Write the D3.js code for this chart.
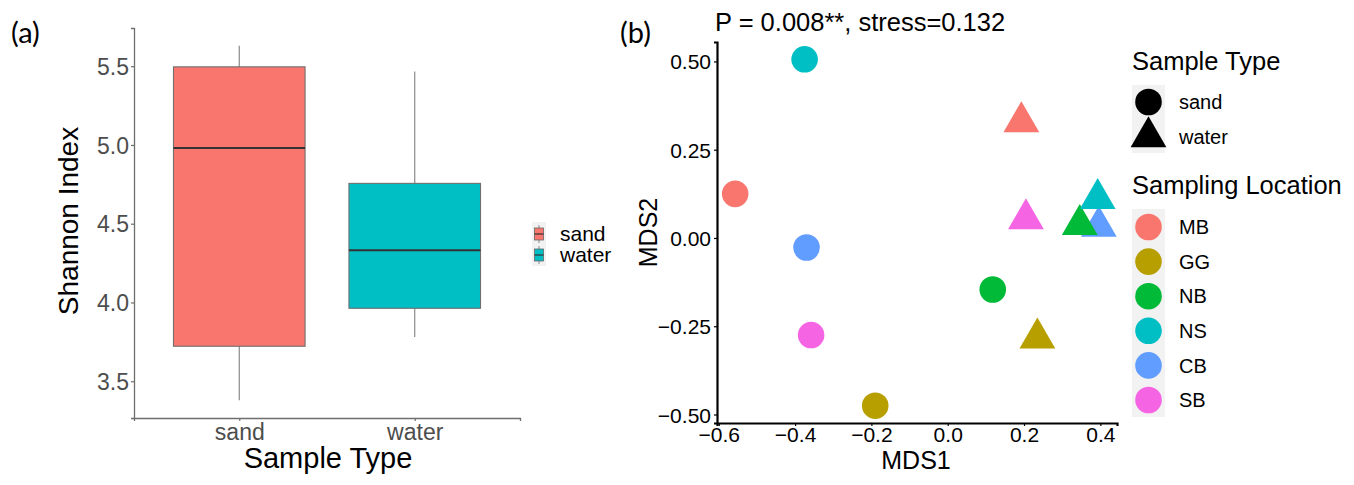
<!DOCTYPE html>
<html>
<head>
<meta charset="utf-8">
<script src="https://cdn.jsdelivr.net/npm/d3@7"></script>
<style>
  html, body { margin: 0; padding: 0; background: white; }
  svg text { font-family: "Liberation Sans", Arial, sans-serif; }
</style>
</head>
<body>
<div id="chart"></div>
<script>
// ---- panel (a) data: Shannon index boxplot ----
const sampleTypes = ['sand', 'water'];
const typeColors = ['#F8766D', '#00BFC4'];
const whiskerLow = [3.379, 3.78];
const boxQ1 = [3.722, 3.963];
const boxMedian = [4.98, 4.332];
const boxQ3 = [5.496, 4.756];
const whiskerHigh = [5.63, 5.466];
const shannonTicks = [3.5, 4.0, 4.5, 5.0, 5.5];

// ---- panel (b) data: NMDS ordination ----
const locations = ['MB', 'GG', 'NB', 'NS', 'CB', 'SB'];
const locColors = ['#F8766D', '#B79F00', '#00BA38', '#00BFC4', '#619CFF', '#F564E3'];
const sandMDS1 = [-0.557, -0.19, 0.118, -0.375, -0.37, -0.358];
const sandMDS2 = [0.125, -0.475, -0.146, 0.506, -0.027, -0.275];
const waterMDS1 = [0.193, 0.235, 0.346, 0.393, 0.396, 0.205];
const waterMDS2 = [0.329, -0.284, 0.038, 0.111, 0.033, 0.054];
const waterDrawOrder = ['MB', 'GG', 'CB', 'NB', 'NS', 'SB'];
const mds1Ticks = [-0.6, -0.4, -0.2, 0.0, 0.2, 0.4];
const mds2Ticks = [-0.50, -0.25, 0.00, 0.25, 0.50];
const statsTitle = 'P = 0.008**, stress=0.132';

let svg = d3.select('#chart').append('svg')
    .attr('width', 1354)
    .attr('height', 485);

// ggplot style 5% expansion of a continuous range
function expand(vals){
    let lo = d3.min(vals), hi = d3.max(vals);
    let pad = (hi - lo) * 0.05;
    return [lo - pad, hi + pad];
}

// ================= panel (a) =================
let a = { left: 134, right: 520, top: 28, bottom: 418 };

svg.append('text')
    .attr('x', 11).attr('y', 43)
    .style('font-family', 'Lato, "Open Sans", sans-serif')
    .attr('font-size', 29)
    .text('(a)');

let yA = d3.scaleLinear()
    .domain(expand(whiskerLow.concat(whiskerHigh)))
    .range([a.bottom, a.top]);

let xA = d3.scalePoint()
    .domain(sampleTypes)
    .range([a.left, a.right])
    .padding(0.6);

let boxW = xA.step() * 0.75;

let yAxisA = svg.append('g')
    .attr('transform', `translate(${a.left},0)`)
    .call(d3.axisLeft(yA).tickValues(shannonTicks).tickFormat(d3.format('.1f'))
        .tickSizeOuter(0).tickSize(3).tickPadding(2));
let xAxisA = svg.append('g')
    .attr('transform', `translate(0,${a.bottom})`)
    .call(d3.axisBottom(xA).tickSizeOuter(0).tickSize(3).tickPadding(3));

[yAxisA, xAxisA].forEach(g => {
    g.select('.domain').attr('stroke', '#6e6e6e').attr('stroke-width', 1.3);
    g.selectAll('.tick line').attr('stroke', '#6e6e6e').attr('stroke-width', 1.2);
    g.selectAll('.tick text').attr('fill', '#4D4D4D').attr('font-size', 23);
});
yAxisA.selectAll('.tick text').attr('dy', '0.36em');

let boxes = svg.append('g').selectAll('g')
    .data(sampleTypes)
    .join('g');

boxes.append('line')
    .attr('x1', d => xA(d)).attr('x2', d => xA(d))
    .attr('y1', (d, i) => yA(whiskerHigh[i]))
    .attr('y2', (d, i) => yA(whiskerLow[i]))
    .attr('stroke', '#8a8a8a').attr('stroke-width', 1.2);

boxes.append('rect')
    .attr('x', d => xA(d) - boxW / 2)
    .attr('width', boxW)
    .attr('y', (d, i) => yA(boxQ3[i]))
    .attr('height', (d, i) => yA(boxQ1[i]) - yA(boxQ3[i]))
    .attr('fill', (d, i) => typeColors[i])
    .attr('stroke', '#707070').attr('stroke-width', 1.1);

boxes.append('line')
    .attr('x1', d => xA(d) - boxW / 2).attr('x2', d => xA(d) + boxW / 2)
    .attr('y1', (d, i) => yA(boxMedian[i]))
    .attr('y2', (d, i) => yA(boxMedian[i]))
    .attr('stroke', '#333').attr('stroke-width', 2);

svg.append('text')
    .attr('x', (a.left + a.right) / 2 + 1).attr('y', 468)
    .attr('text-anchor', 'middle')
    .attr('font-size', 29)
    .text('Sample Type');

svg.append('text')
    .attr('transform', 'translate(78,221) rotate(-90)')
    .attr('text-anchor', 'middle')
    .attr('font-size', 28)
    .text('Shannon Index');

// legend (a)
let legA = svg.append('g').attr('transform', 'translate(532,222)');
legA.append('rect')
    .attr('width', 14).attr('height', 44)
    .attr('fill', '#f2f2f2');
let legAKeys = legA.selectAll('g.key')
    .data(sampleTypes)
    .join('g')
    .attr('class', 'key')
    .attr('transform', (d, i) => `translate(0,${12 + i * 21})`);
legAKeys.append('line')
    .attr('x1', 7).attr('x2', 7).attr('y1', -9).attr('y2', 9)
    .attr('stroke', '#8a8a8a').attr('stroke-width', 1);
legAKeys.append('rect')
    .attr('x', 2.5).attr('y', -6).attr('width', 9).attr('height', 12)
    .attr('fill', (d, i) => typeColors[i])
    .attr('stroke', '#666').attr('stroke-width', 0.8);
legAKeys.append('line')
    .attr('x1', 2.5).attr('x2', 11.5).attr('y1', 0).attr('y2', 0)
    .attr('stroke', '#333').attr('stroke-width', 1.2);
legAKeys.append('text')
    .attr('x', 28).attr('y', 0).attr('dy', '0.34em')
    .attr('font-size', 21)
    .text(d => d);

// ================= panel (b) =================
let b = { left: 717, right: 1117, top: 42, bottom: 423 };

svg.append('text')
    .attr('x', 620).attr('y', 43)
    .style('font-family', 'Lato, "Open Sans", sans-serif')
    .attr('font-size', 29)
    .text('(b)');

svg.append('text')
    .attr('x', 715).attr('y', 31)
    .attr('font-size', 25.5)
    .text(statsTitle);

let xB = d3.scaleLinear()
    .domain(expand(sandMDS1.concat(waterMDS1)))
    .range([b.left, b.right]);
let yB = d3.scaleLinear()
    .domain(expand(sandMDS2.concat(waterMDS2)))
    .range([b.bottom, b.top]);

let xAxisB = svg.append('g')
    .attr('transform', `translate(0,${b.bottom})`)
    .call(d3.axisBottom(xB).tickValues(mds1Ticks).tickFormat(d3.format('.1f'))
        .tickSizeOuter(0).tickSize(3).tickPadding(1));
let yAxisB = svg.append('g')
    .attr('transform', `translate(${b.left},0)`)
    .call(d3.axisLeft(yB).tickValues(mds2Ticks).tickFormat(d3.format('.2f'))
        .tickSizeOuter(0).tickSize(3).tickPadding(3));

[xAxisB, yAxisB].forEach(g => {
    g.select('.domain').attr('stroke', 'black').attr('stroke-width', 2.2);
    g.selectAll('.tick line').attr('stroke', 'black').attr('stroke-width', 1.2);
    g.selectAll('.tick text').attr('fill', 'black').attr('font-size', 21);
});
yAxisB.selectAll('.tick text').attr('dy', '0.36em');

svg.append('text')
    .attr('x', (b.left + b.right) / 2 - 1).attr('y', 469)
    .attr('text-anchor', 'middle')
    .attr('font-size', 25)
    .text('MDS1');

svg.append('text')
    .attr('transform', `translate(657,${(b.top + b.bottom) / 2}) rotate(-90)`)
    .attr('text-anchor', 'middle')
    .attr('font-size', 25)
    .text('MDS2');

// points: sand = circles, water = triangles
let pointSize = 555;
let sandPts = locations.map((loc, i) => ({ loc: loc, type: 'sand', x: sandMDS1[i], y: sandMDS2[i], col: locColors[i] }));
let waterPts = waterDrawOrder.map(loc => {
    let i = locations.indexOf(loc);
    return { loc: loc, type: 'water', x: waterMDS1[i], y: waterMDS2[i], col: locColors[i] };
});

svg.append('g').selectAll('path')
    .data(sandPts.concat(waterPts))
    .join('path')
    .attr('transform', d => `translate(${xB(d.x)},${yB(d.y)})`)
    .attr('d', d => d3.symbol()
        .type(d.type == 'sand' ? d3.symbolCircle : d3.symbolTriangle)
        .size(pointSize)())
    .attr('fill', d => d.col);

// legend (b): Sample Type
let legB1 = svg.append('g').attr('transform', 'translate(1132,0)');
legB1.append('text')
    .attr('x', 0).attr('y', 70)
    .attr('font-size', 25.5)
    .text('Sample Type');
legB1.append('rect')
    .attr('x', 0).attr('y', 85).attr('width', 33).attr('height', 68)
    .attr('fill', '#f2f2f2');
legB1.selectAll('path')
    .data(sampleTypes)
    .join('path')
    .attr('transform', (d, i) => `translate(16.5,${102 + i * 35})`)
    .attr('d', (d, i) => d3.symbol().type(i == 0 ? d3.symbolCircle : d3.symbolTriangle).size(pointSize)())
    .attr('fill', 'black');
legB1.selectAll('text.lab')
    .data(sampleTypes)
    .join('text')
    .attr('class', 'lab')
    .attr('x', 47).attr('y', (d, i) => 102 + i * 35)
    .attr('dy', '0.36em')
    .attr('font-size', 20)
    .text(d => d);

// legend (b): Sampling Location
let legB2 = svg.append('g').attr('transform', 'translate(1132,0)');
legB2.append('text')
    .attr('x', 0).attr('y', 194)
    .attr('font-size', 25.5)
    .text('Sampling Location');
legB2.append('rect')
    .attr('x', 0).attr('y', 209).attr('width', 33).attr('height', 208)
    .attr('fill', '#f2f2f2');
legB2.selectAll('path')
    .data(locations)
    .join('path')
    .attr('transform', (d, i) => `translate(16.5,${227 + i * 34.6})`)
    .attr('d', d3.symbol().type(d3.symbolCircle).size(pointSize)())
    .attr('fill', (d, i) => locColors[i]);
legB2.selectAll('text.lab')
    .data(locations)
    .join('text')
    .attr('class', 'lab')
    .attr('x', 47).attr('y', (d, i) => 227 + i * 34.6)
    .attr('dy', '0.36em')
    .attr('font-size', 20)
    .text(d => d);
</script>
</body>
</html>
